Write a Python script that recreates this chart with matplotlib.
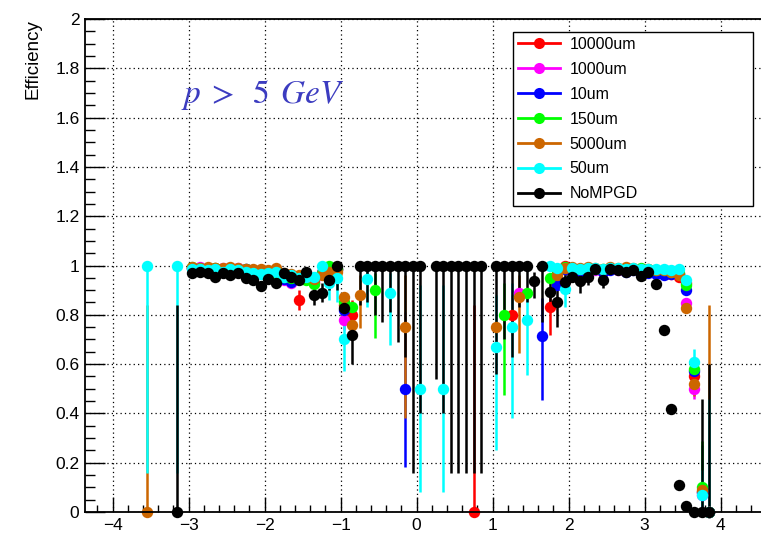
import numpy as np
import matplotlib
matplotlib.use("Agg")
import matplotlib.pyplot as plt
from matplotlib.lines import Line2D

nan = np.nan

# eta bin centres
eta = [-3.55, -3.15,
       -2.95, -2.85, -2.75, -2.65, -2.55, -2.45, -2.35, -2.25, -2.15, -2.05,
       -1.95, -1.85, -1.75, -1.65, -1.55, -1.45, -1.35, -1.25, -1.15, -1.05,
       -0.95, -0.85, -0.75, -0.65, -0.55, -0.45, -0.35, -0.25, -0.15, -0.05,
       0.05, 0.15, 0.25, 0.35, 0.45, 0.55, 0.65, 0.75, 0.85, 0.95,
       1.05, 1.15, 1.25, 1.35, 1.45, 1.55, 1.65, 1.75, 1.85, 1.95,
       2.05, 2.15, 2.25, 2.35, 2.45, 2.55, 2.65, 2.75, 2.85, 2.95, 3.05,
       3.15, 3.25, 3.35, 3.45, 3.55, 3.65, 3.75, 3.85]

eff_10000 = [nan, nan,
             0.99, 0.99, 0.985, 0.99, 0.985, 0.99, 0.985, 0.98, 0.98, 0.975,
             0.97, 0.965, 0.955, 0.95, 0.86, 0.955, 0.93, 0.965, 0.97, 0.985,
             0.84, 0.80, nan, nan, nan, nan, nan, nan, nan, nan,
             nan, nan, nan, nan, nan, nan, nan, 0.0, nan, nan,
             nan, nan, 0.80, nan, nan, nan, nan, 0.83, 0.93, 1.0,
             0.99, 0.985, 0.99, 0.985, 0.98, 0.99, 0.985, 0.98, 0.985, 0.98, 0.975,
             0.975, 0.975, 0.965, 0.955, 0.93, 0.55, 0.08, 0.0]
eff_1000 = [nan, nan,
            0.99, 0.995, 0.99, 0.985, 0.99, 0.985, 0.99, 0.985, 0.975, 0.97,
            0.965, 0.955, 0.94, 0.93, 0.95, 0.945, 0.935, 0.975, 0.96, 0.98,
            0.78, nan, nan, nan, nan, nan, nan, nan, nan, nan,
            nan, nan, nan, nan, nan, nan, nan, nan, nan, nan,
            nan, nan, nan, 0.89, nan, nan, nan, nan, 0.95, 0.985,
            0.985, 0.98, 0.985, 0.98, 0.975, 0.985, 0.98, 0.98, 0.985, 0.975, 0.975,
            0.97, 0.97, 0.965, 0.965, 0.846, 0.50, 0.07, 0.0]
eff_10 = [nan, nan,
          0.99, 0.985, 0.99, 0.985, 0.985, 0.99, 0.98, 0.985, 0.975, 0.97,
          0.965, 0.96, 0.945, 0.935, 0.945, 0.95, 0.94, 0.97, 0.965, 0.985,
          0.82, nan, nan, nan, nan, nan, nan, nan, 0.50, nan,
          nan, nan, nan, nan, nan, nan, nan, nan, nan, nan,
          nan, nan, nan, nan, nan, nan, 0.715, nan, 0.92, 0.985,
          0.98, 0.975, 0.98, 0.985, 0.975, 0.98, 0.985, 0.975, 0.98, 0.975, 0.97,
          0.965, 0.96, 0.965, 0.965, 0.90, 0.57, 0.08, 0.0]
eff_150 = [nan, nan,
           0.995, 0.99, 0.99, 0.99, 0.985, 0.99, 0.985, 0.985, 0.98, 0.975,
           0.97, 0.96, 0.955, 0.95, 0.95, 0.94, 0.925, 0.97, 1.0, 0.985,
           0.85, 0.83, nan, nan, 0.90, nan, nan, nan, nan, nan,
           nan, nan, nan, nan, nan, nan, nan, nan, nan, nan,
           nan, 0.80, nan, nan, 0.89, nan, nan, 0.95, 0.97, 0.995,
           0.99, 0.985, 0.99, 0.985, 0.985, 0.99, 0.985, 0.99, 0.985, 0.99, 0.985,
           0.98, 0.98, 0.975, 0.97, 0.92, 0.58, 0.10, 0.0]
eff_5000 = [0.0, nan,
            0.995, 0.99, 0.995, 0.99, 0.99, 0.995, 0.99, 0.985, 0.985, 0.985,
            0.98, 0.99, 0.97, 0.965, 0.96, 0.955, 0.945, 0.96, 0.975, 0.975,
            0.873, 0.758, 0.88, nan, nan, nan, nan, nan, 0.75, nan,
            nan, nan, nan, nan, nan, nan, nan, nan, nan, nan,
            0.75, nan, nan, 0.873, nan, nan, nan, nan, 0.96, 0.99,
            0.995, 0.99, 0.995, 0.99, 0.985, 0.995, 0.99, 0.995, 0.99, 0.985, 0.985,
            0.98, 0.98, 0.975, 0.96, 0.826, 0.52, 0.09, 0.0]
eff_50 = [1.0, 1.0,
          0.985, 0.985, 0.98, 0.985, 0.975, 0.985, 0.98, 0.975, 0.97, 0.965,
          0.97, 0.975, 0.955, 0.96, 0.95, 0.955, 0.955, 1.0, 0.93, 0.95,
          0.70, nan, nan, 0.945, nan, nan, 0.89, nan, nan, nan,
          0.50, nan, nan, 0.50, nan, nan, nan, nan, nan, nan,
          0.668, nan, 0.75, nan, 0.778, nan, nan, 1.0, 0.99, 0.905,
          0.99, 0.985, 0.99, 0.99, 0.985, 0.99, 0.99, 0.985, 0.99, 0.985, 0.985,
          0.985, 0.985, 0.98, 0.985, 0.94, 0.61, 0.07, 0.0]
eff_nompgd = [nan, 0.0,
              0.970, 0.974, 0.970, 0.955, 0.970, 0.960, 0.970, 0.950, 0.940, 0.918,
              0.945, 0.930, 0.968, 0.955, 0.940, 0.975, 0.880, 0.890, 0.940, 1.0,
              0.826, 0.717, 1.0, 1.0, 1.0, 1.0, 1.0, 1.0, 1.0, 1.0,
              1.0, nan, 1.0, 1.0, 1.0, 1.0, 1.0, 1.0, 1.0, nan,
              1.0, 1.0, 1.0, 1.0, 1.0, 0.937, 1.0, 0.893, 0.852, 0.934,
              0.954, 0.936, 0.954, 0.984, 0.943, 0.984, 0.98, 0.975, 0.98, 0.957, 0.975,
              0.923, 0.74, 0.418, 0.109, 0.026, 0.0, 0.0, 0.0]

# (low, high) ends of the visible uncertainty bars
bars_10000 = {-1.55: (0.82, 0.90), -0.85: (0.74, 0.86), 0.75: (0.0, 0.84),
              1.25: (0.72, 0.88), 1.75: (0.72, 0.89), 3.65: (0.50, 0.60),
              3.75: (0.02, 0.22)}
bars_1000 = {-0.95: (0.74, 0.82), 3.65: (0.46, 0.55), 3.75: (0.02, 0.22)}
bars_10 = {-0.15: (0.184, 0.81), 1.65: (0.454, 0.87), 3.75: (0.02, 0.27),
           3.85: (0.0, 0.37)}
bars_150 = {-0.55: (0.705, 0.97), 1.15: (0.475, 0.93), 3.75: (0.03, 0.29)}
bars_5000 = {-3.55: (0.0, 0.84), -0.75: (0.745, 0.96), -0.15: (0.38, 0.96),
             1.35: (0.644, 0.96), 3.65: (0.47, 0.57), 3.85: (0.0, 0.84)}
bars_50 = {-3.55: (0.16, 1.0), -3.15: (0.16, 1.0), -1.15: (0.86, 0.97),
           -1.05: (0.85, 0.99), -0.95: (0.57, 0.80), -0.65: (0.83, 0.99),
           -0.35: (0.677, 0.97), 0.05: (0.08, 0.92), 0.35: (0.08, 0.92),
           1.05: (0.25, 0.88), 1.25: (0.38, 0.93), 1.45: (0.555, 0.91),
           1.95: (0.83, 0.96), 3.65: (0.56, 0.66), 3.75: (0.01, 0.17),
           3.85: (0.0, 0.46)}
bars_nompgd = {-3.15: (0.0, 0.84), -1.35: (0.84, 0.92), -1.25: (0.85, 0.93),
               -1.15: (0.90, 0.97), -1.05: (0.90, 1.0), -0.95: (0.77, 0.88),
               -0.85: (0.60, 0.80), -0.75: (0.84, 1.0), -0.65: (0.85, 1.0),
               -0.55: (0.80, 1.0), -0.45: (0.77, 1.0), -0.35: (0.81, 1.0),
               -0.25: (0.69, 1.0), -0.15: (0.63, 1.0), -0.05: (0.16, 1.0),
               0.05: (0.40, 1.0), 0.25: (0.54, 1.0), 0.35: (0.40, 1.0),
               0.45: (0.16, 1.0), 0.55: (0.16, 1.0), 0.65: (0.16, 1.0),
               0.75: (0.16, 1.0), 0.85: (0.16, 1.0), 1.05: (0.56, 1.0),
               1.15: (0.70, 1.0), 1.25: (0.63, 1.0), 1.35: (0.83, 1.0),
               1.45: (0.85, 1.0), 1.55: (0.87, 0.975), 1.65: (0.77, 1.0),
               1.75: (0.84, 0.94), 1.85: (0.75, 0.92), 1.95: (0.90, 0.97),
               2.15: (0.89, 0.96), 2.25: (0.92, 0.98), 2.45: (0.91, 0.97),
               3.25: (0.725, 0.755), 3.35: (0.40, 0.435),
               3.75: (0.0, 0.458), 3.85: (0.0, 0.60)}

series = [
    ("10000um", eff_10000, bars_10000, "#ff0000"),
    ("1000um", eff_1000, bars_1000, "#ff00ff"),
    ("10um", eff_10, bars_10, "#0000ff"),
    ("150um", eff_150, bars_150, "#00ff00"),
    ("5000um", eff_5000, bars_5000, "#cc6600"),
    ("50um", eff_50, bars_50, "#00ffff"),
    ("NoMPGD", eff_nompgd, bars_nompgd, "#000000"),
]

plt.rcParams["font.family"] = ["Liberation Sans", "DejaVu Sans"]
plt.rcParams["mathtext.fontset"] = "stix"

fig = plt.figure(figsize=(7.61, 5.5), dpi=100)
ax = fig.add_axes([85 / 761, 38 / 550, 684 / 761, 493 / 550])

x = np.array(eta)
for name, eff, bars, col in series:
    y = np.array(eff, dtype=float)
    lo = np.zeros_like(y)
    hi = np.zeros_like(y)
    for i, e in enumerate(eta):
        if e in bars:
            lo[i] = y[i] - bars[e][0]
            hi[i] = bars[e][1] - y[i]
    ok = ~np.isnan(y)
    cont = ax.errorbar(x[ok], y[ok], yerr=[lo[ok], hi[ok]], fmt="o", color=col,
                       ms=8.2, mew=0, elinewidth=1.8, capsize=2.2, capthick=1.5)
    for art in cont.get_children():
        art.set_clip_on(False)

ax.set_xlim(-4.363, 4.637)
ax.set_ylim(0, 2)
ax.set_xticks(np.arange(-4, 5, 1))
ax.set_xticks(np.arange(-4.2, 4.7, 0.2), minor=True)
ax.set_yticks(np.arange(0, 2.01, 0.2))
ax.set_yticks(np.arange(0, 2.01, 0.05), minor=True)
ax.set_xticklabels(["\u22124", "\u22123", "\u22122", "\u22121", "0", "1", "2", "3", "4"])
ax.set_yticklabels(["0", "0.2", "0.4", "0.6", "0.8", "1", "1.2", "1.4", "1.6", "1.8", "2"])
ax.tick_params(axis="both", which="both", direction="in", labelsize=12.5,
               width=1, top=False, right=False)
ax.tick_params(axis="x", which="major", length=11, pad=4)
ax.tick_params(axis="x", which="minor", length=5)
ax.tick_params(axis="y", which="major", length=14.5, pad=4)
ax.tick_params(axis="y", which="minor", length=7.2)
ax.grid(True, which="major", color="black", linestyle=(0, (1, 2.5)), linewidth=0.9)
ax.set_axisbelow(True)
for sp in ax.spines.values():
    sp.set_linewidth(1.3)
ax.spines["right"].set_visible(False)

ax.set_ylabel("Efficiency", fontsize=13.5, loc="top", labelpad=10)

ax.text(0.1405, 0.8296, r"$p\;>\;\;5\;\,GeV$", transform=ax.transAxes,
        color="#3c3cc0", fontsize=24, va="baseline", ha="left")

handles = [Line2D([], [], color=col, marker="o", ms=8, mew=0, lw=2)
           for name, eff, bars, col in series]
labels = [name for name, eff, bars, col in series]
# legend box spans eta ~1.26 to ~4.42 and eff ~1.25 to ~1.95
leg = ax.legend(handles, labels, loc="upper left", mode="expand",
                bbox_to_anchor=(0.626, 0.627, 0.351, 0.347), fontsize=11.5,
                frameon=True, fancybox=False, edgecolor="black",
                framealpha=1, handlelength=2.6, handletextpad=0.6,
                labelspacing=0.62, borderpad=0.32, borderaxespad=0)
leg.get_frame().set_linewidth(1.0)

fig.savefig("out.png", dpi=100)
